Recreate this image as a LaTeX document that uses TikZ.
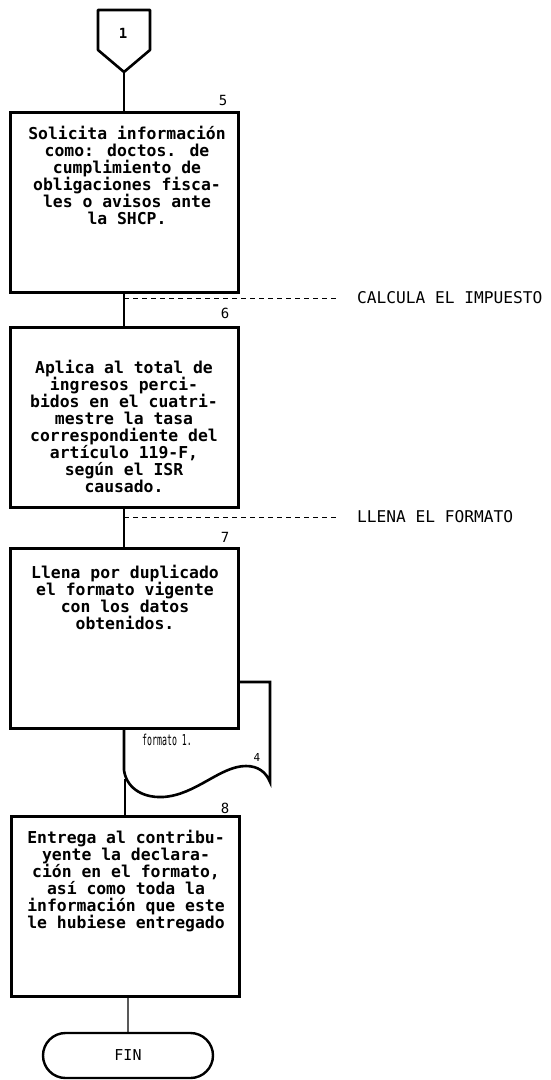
\documentclass[tikz,border=0pt]{standalone}
\usepackage{fontspec}
\newfontfamily\dotf{DejaVu Sans Mono}
\usetikzlibrary{shapes.misc}
\tikzset{
  procbox/.style={draw, line width=3pt, fill=white, minimum width=228pt, minimum height=180pt, inner sep=0pt, outer sep=0pt},
  boxtext/.style={font=\dotf\bfseries\fontsize{16.4}{17}\selectfont, align=center, inner sep=0pt},
  numlabel/.style={font=\dotf\fontsize{14}{14}\selectfont, inner sep=0pt},
  flow/.style={line width=1.3pt},
  guide/.style={line width=1pt, dash pattern=on 5pt off 4pt},
  sidetext/.style={font=\dotf\fontsize{16.2}{17}\selectfont, anchor=west, inner sep=0pt},
  term/.style={draw, line width=2.4pt, rounded rectangle, minimum width=170pt, minimum height=45pt, inner sep=0pt, outer sep=0pt, font=\dotf\fontsize{15}{15}\selectfont}
}
\begin{document}
\begin{tikzpicture}[x=1pt,y=-1pt]
\useasboundingbox (0,0) rectangle (551,1080);
% off-page connector
\draw[line width=2.6pt, line join=round] (98,10) -- (150,10) -- (150,50) -- (124,72) -- (98,50) -- cycle;
\node[numlabel, font=\dotf\bfseries\fontsize{14}{14}\selectfont] (c1) at (123,33) {1};
\coordinate (c1tip) at (124,72);
% box 5
\node[procbox] (b5) at (124,202) {};
\node[numlabel] (n5) at (223,100) {5};
\node[boxtext] (t5) at (127,175) {Solicita información\\como: doctos. de\\cumplimiento de\\obligaciones fisca-\\les o avisos ante\\la SHCP.};
% box 6
\node[procbox] (b6) at (124,417.5) {};
\node[numlabel] (n6) at (225,313) {6};
\node[boxtext] (t6) at (124,426) {Aplica al total de\\ingresos perci-\\bidos en el cuatri-\\mestre la tasa\\correspondiente del\\artículo 119-F,\\según el ISR\\causado.};
% guide lines
\coordinate (g1) at (124,298);
\coordinate (g1e) at (337,298);
\node[sidetext] (s1) at (357,298) {CALCULA EL IMPUESTO};
\coordinate (g2) at (124,517);
\coordinate (g2e) at (337,517);
\node[sidetext] (s2) at (357,517) {LLENA EL FORMATO};
% document behind box 7
\draw[line width=2.6pt, fill=white] (200,682) -- (270,682) -- (270,782)
  .. controls (266,772) and (258,766) .. (246,766)
  .. controls (220,766) and (196,795) .. (163,797)
  .. controls (140,798) and (126,786) .. (124,770) -- (124,700);
\node[inner sep=0pt, anchor=west, font=\dotf\fontsize{15}{15}\selectfont] (f1) at (142,740) {\scalebox{0.55}[1]{formato 1.}};
\node[numlabel, font=\dotf\fontsize{11}{11}\selectfont] (n4) at (257,757) {4};
\coordinate (docb) at (125,779);
% box 7
\node[procbox] (b7) at (124,638) {};
\node[numlabel] (n7) at (225,537) {7};
\node[boxtext] (t7) at (125,597) {Llena por duplicado\\el formato vigente\\con los datos\\obtenidos.};
% box 8
\node[procbox] (b8) at (125,906) {};
\node[numlabel] (n8) at (225,808) {8};
\node[boxtext] (t8) at (126,881) {Entrega al contribu-\\yente la declara-\\ción en el formato,\\así como toda la\\información que este\\le hubiese entregado};
% terminal
\node[term] (fin) at (128,1055.5) {FIN};
% connectors
\draw[flow] (c1tip) -- (b5);
\draw[flow] (b5) -- (b6);
\draw[flow] (b6) -- (b7);
\draw[flow] (docb) -- (b8);
\draw[flow] (b8.south -| fin.north) -- (fin);
\draw[guide] (g1) -- (g1e);
\draw[guide] (g2) -- (g2e);
\end{tikzpicture}
\end{document}
